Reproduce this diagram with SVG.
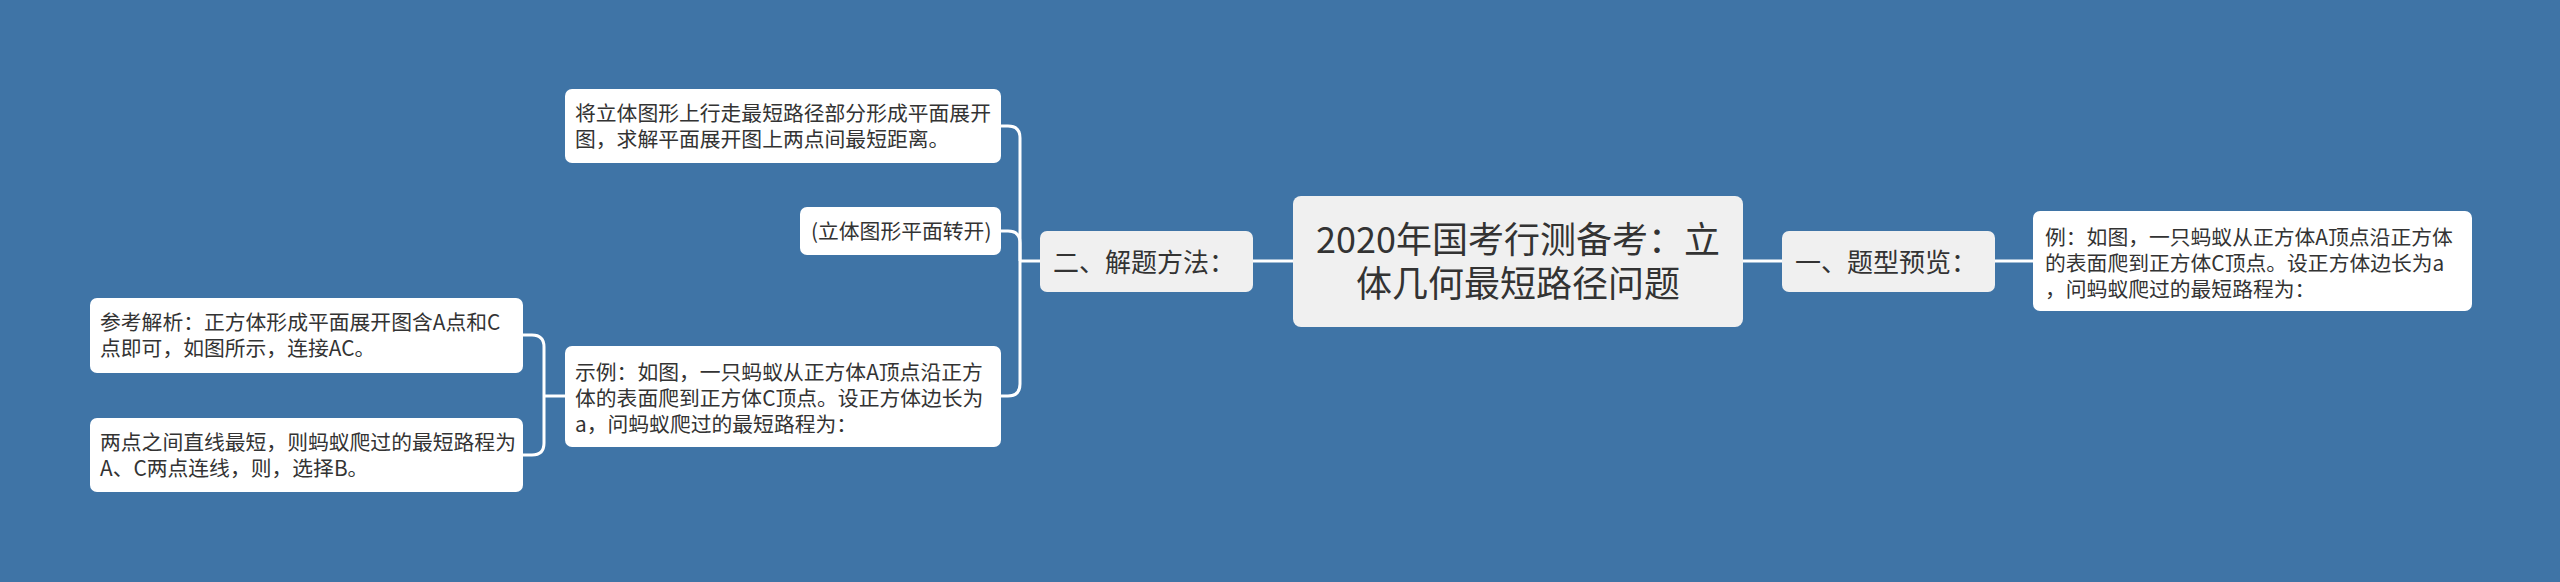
<svg xmlns="http://www.w3.org/2000/svg" width="2560" height="582" viewBox="0 0 2560 582">
<style>
.bg{fill:#3f74a6}
.c{fill:none;stroke:#ffffff;stroke-width:3}
.root{fill:#f0f0f0}
.l1{fill:#f0f0f0}
.leaf{fill:#ffffff}
text{font-family:"Noto Sans CJK SC","Noto Sans",sans-serif;fill:#333333}
.tr{font-size:36px;text-anchor:middle}
.t1{font-size:26px}
.tl{font-size:20.8px}
</style>
<rect class="bg" x="0" y="0" width="2560" height="582"/>
<g id="connectors">
<path class="c" d="M1743 261 H1782"/>
<path class="c" d="M1995 261 H2033"/>
<path class="c" d="M1293 261 H1253"/>
<path class="c" d="M1040 261 H1020"/>
<path class="c" d="M1020 261 V138 Q1020 126 1008 126 H1001"/>
<path class="c" d="M1020 261 V243 Q1020 231 1008 231 H1001"/>
<path class="c" d="M1020 261 V384 Q1020 396 1008 396 H1001"/>
<path class="c" d="M565 396 H544"/>
<path class="c" d="M544 396 V347 Q544 335 532 335 H523"/>
<path class="c" d="M544 396 V443 Q544 455 532 455 H523"/>
</g>
<g id="root">
<rect class="root" x="1293" y="196" width="450" height="131" rx="8"/>
<text class="tr" x="1518" y="253">2020年国考行测备考：立</text>
<text class="tr" x="1518" y="297">体几何最短路径问题</text>
</g>
<g id="n1">
<rect class="l1" x="1782" y="231" width="213" height="61" rx="7"/>
<text class="t1" x="1795" y="272">一、题型预览：</text>
</g>
<g id="n1a">
<rect class="leaf" x="2033" y="211" width="439" height="100" rx="7"/>
<text class="tl" x="2045" y="245">例：如图，一只蚂蚁从正方体A顶点沿正方体</text>
<text class="tl" x="2045" y="271">的表面爬到正方体C顶点。设正方体边长为a</text>
<text class="tl" x="2045" y="297">，问蚂蚁爬过的最短路程为：</text>
</g>
<g id="n2">
<rect class="l1" x="1040" y="231" width="213" height="61" rx="7"/>
<text class="t1" x="1053" y="272">二、解题方法：</text>
</g>
<g id="n2a">
<rect class="leaf" x="565" y="89" width="436" height="74" rx="7"/>
<text class="tl" x="575" y="121">将立体图形上行走最短路径部分形成平面展开</text>
<text class="tl" x="575" y="147">图，求解平面展开图上两点间最短距离。</text>
</g>
<g id="n2b">
<rect class="leaf" x="800" y="207" width="201" height="48" rx="7"/>
<text class="tl" x="811" y="239">(立体图形平面转开)</text>
</g>
<g id="n2c">
<rect class="leaf" x="565" y="346" width="436" height="101" rx="7"/>
<text class="tl" x="575" y="380">示例：如图，一只蚂蚁从正方体A顶点沿正方</text>
<text class="tl" x="575" y="406">体的表面爬到正方体C顶点。设正方体边长为</text>
<text class="tl" x="575" y="432">a，问蚂蚁爬过的最短路程为：</text>
</g>
<g id="n2c1">
<rect class="leaf" x="90" y="298" width="433" height="75" rx="7"/>
<text class="tl" x="100" y="330">参考解析：正方体形成平面展开图含A点和C</text>
<text class="tl" x="100" y="356">点即可，如图所示，连接AC。</text>
</g>
<g id="n2c2">
<rect class="leaf" x="90" y="418" width="433" height="74" rx="7"/>
<text class="tl" x="100" y="450">两点之间直线最短，则蚂蚁爬过的最短路程为</text>
<text class="tl" x="100" y="476">A、C两点连线，则，选择B。</text>
</g>
</svg>
